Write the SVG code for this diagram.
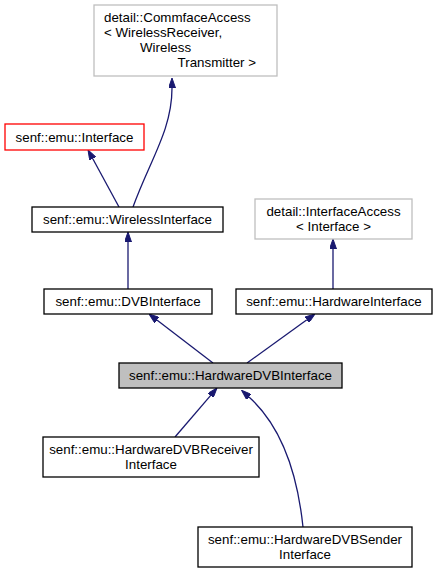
<svg xmlns="http://www.w3.org/2000/svg" width="436" height="573" viewBox="0 0 436 573">
<style>
text{font-family:"Liberation Sans",Arial,sans-serif;font-size:13.33px;fill:#000}
.m{text-anchor:middle}
.e{text-anchor:end}
.box{fill:#fff;stroke:#000;stroke-width:1.3}
.gray{fill:#fff;stroke:#bfbfbf;stroke-width:1.3}
.red{fill:#fff;stroke:#ff0000;stroke-width:1.3}
.cur{fill:#bfbfbf;stroke:#000;stroke-width:1.3}
.edge{fill:none;stroke:#191970;stroke-width:1.3;marker-end:url(#ah)}
</style>
<defs>
<marker id="ah" viewBox="0 0 10 7" refX="0" refY="3.5" markerWidth="10" markerHeight="7" markerUnits="userSpaceOnUse" orient="auto">
<path d="M0,0 L10,3.5 L0,7 z" fill="#191970" stroke="#191970"/>
</marker>
</defs>
<rect width="436" height="573" fill="#fff"/>
<g id="edges">
<path class="edge" d="M133,207 C150,160 172,130 172,88"/>
<path class="edge" d="M119,207 L92.8,158.8"/>
<path class="edge" d="M128,289 L128,242"/>
<path class="edge" d="M333,289 L333,249"/>
<path class="edge" d="M213,363 L156.9,320.1"/>
<path class="edge" d="M247,363 L306.9,319.8"/>
<path class="edge" d="M175,437 L210.5,395.6"/>
<path class="edge" d="M303,527 C297,470 280,425 249,397"/>
</g>
<g id="commface">
<rect class="gray" x="94" y="5" width="183" height="71"/>
<text x="104" y="22">detail::CommfaceAccess</text>
<text x="104" y="37">&lt; WirelessReceiver,</text>
<text x="140" y="52">Wireless</text>
<text class="e" x="256" y="67">Transmitter &gt;</text>
</g>
<g id="interface">
<rect class="red" x="5" y="124" width="139" height="26"/>
<text class="m" x="74.5" y="142">senf::emu::Interface</text>
</g>
<g id="wireless">
<rect class="box" x="32" y="207" width="191" height="25"/>
<text class="m" x="127.5" y="224">senf::emu::WirelessInterface</text>
</g>
<g id="ifaccess">
<rect class="gray" x="255" y="199" width="157" height="40"/>
<text class="m" x="333.5" y="216">detail::InterfaceAccess</text>
<text class="m" x="333.5" y="231">&lt; Interface &gt;</text>
</g>
<g id="dvb">
<rect class="box" x="44" y="289" width="168" height="25"/>
<text class="m" x="128" y="306">senf::emu::DVBInterface</text>
</g>
<g id="hw">
<rect class="box" x="236" y="289" width="196" height="25"/>
<text class="m" x="334" y="306">senf::emu::HardwareInterface</text>
</g>
<g id="hwdvb">
<rect class="cur" x="119" y="363" width="223" height="25"/>
<text class="m" x="230.5" y="380">senf::emu::HardwareDVBInterface</text>
</g>
<g id="receiver">
<rect class="box" x="43" y="437" width="216" height="40"/>
<text class="m" x="151" y="454">senf::emu::HardwareDVBReceiver</text>
<text class="m" x="151" y="469">Interface</text>
</g>
<g id="sender">
<rect class="box" x="198" y="527" width="214" height="40"/>
<text class="m" x="305" y="544">senf::emu::HardwareDVBSender</text>
<text class="m" x="305" y="559">Interface</text>
</g>
</svg>
